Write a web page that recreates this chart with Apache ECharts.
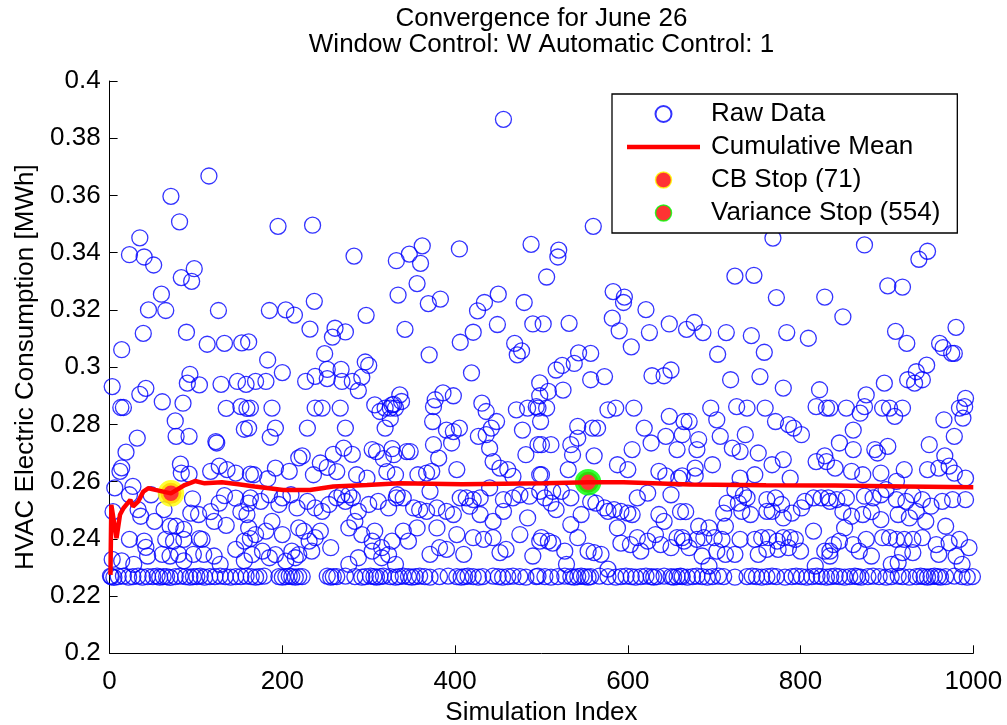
<!DOCTYPE html>
<html><head><meta charset="utf-8">
<script src="https://cdn.jsdelivr.net/npm/echarts@6/dist/echarts.min.js"></script>
<style>html,body{margin:0;padding:0;background:#fff}#c{width:1007px;height:725px}</style>
</head><body><div id="c"></div>
<script>
// ---- data ----
const titleLines = ['Convergence for June 26', 'Window Control: W Automatic Control: 1'];
const xLabel = 'Simulation Index';
const yLabel = 'HVAC Electric Consumption [MWh]';
const xRange = [0, 1000, 200];
const yRange = [0.2, 0.4, 0.02];

const rawHigh = [
[115,0.3668],[71,0.3597],[81,0.3508],[35,0.3452],[23,0.3393],[40,0.3385],[51,0.3357],[98,0.3344],[83,0.3313],[95,0.3300],[60,0.3255],[45,0.3200],[65,0.3198],[126,0.3198],[39,0.3118],[89,0.3122],[14,0.3061],[113,0.3080],[133,0.3083],[153,0.3085],[93,0.2975],
[195,0.3492],[235,0.3496],[283,0.3388],[237,0.3230],[185,0.3198],[204,0.3200],[214,0.3182],[297,0.3181],[232,0.3133],[261,0.3136],[258,0.3105],[273,0.3123],[161,0.3088],[249,0.3047],[183,0.3025],[296,0.3018],[300,0.3006],[200,0.2981],[252,0.2992],[268,0.2992],
[456,0.3866],[362,0.3424],[405,0.3413],[488,0.3429],[347,0.3395],[332,0.3372],[360,0.3363],[506,0.3315],[356,0.3292],[334,0.3252],[450,0.3255],[383,0.3238],[369,0.3222],[434,0.3226],[426,0.3197],[480,0.3226],[342,0.3132],[421,0.3122],[449,0.3149],[490,0.3151],[502,0.3151],[406,0.3087],[469,0.3083],[477,0.3057],[472,0.3043],[370,0.3043],[419,0.2980],
[560,0.3492],[520,0.3409],[519,0.3385],[583,0.3264],[596,0.3245],[595,0.3226],[621,0.3201],[582,0.3171],[532,0.3153],[590,0.3127],[625,0.3121],[648,0.3151],[668,0.3132],[604,0.3071],[543,0.3050],[557,0.3048],[538,0.3013],[524,0.3006],[517,0.2990],[650,0.2990],
[768,0.3451],[724,0.3318],[746,0.3321],[772,0.3243],[828,0.3245],[677,0.3156],[687,0.3121],[714,0.3121],[743,0.3110],[784,0.3121],[809,0.3101],[704,0.3045],[758,0.3052],
[874,0.3427],[947,0.3405],[937,0.3377],[901,0.3284],[918,0.3280],[849,0.3176],[910,0.3125],[923,0.3083],[980,0.3139],[961,0.3083],[965,0.3068],[975,0.3048],[978,0.3048],[946,0.3007],[934,0.2984]
];

const rawBandA = [
[3,0.2932],[90,0.2944],[104,0.2938],[129,0.2940],[148,0.2950],[158,0.2940],[42,0.2926],[35,0.2905],[61,0.2879],[85,0.2874],[13,0.2859],[16,0.2859],[135,0.2856],[152,0.2862],[159,0.2856],[76,0.2812],[156,0.2783],[32,0.2752],[77,0.2758],[92,0.2758],[123,0.2740],[124,0.2735],[19,0.2703],[82,0.2661],[12,0.2636],[14,0.2648],[127,0.2654],[136,0.2642],[146,0.2630],[117,0.2636],[163,0.2626],[83,0.2630],[92,0.2626],
[6,0.2578],[27,0.2583],[23,0.2554],[48,0.2554],[96,0.2540],[133,0.2551],[127,0.2525],[146,0.2542],[161,0.2525],[33,0.2502],[4,0.2495],[36,0.2479],[63,0.2502],[94,0.2490],[103,0.2485],[117,0.2495],[152,0.2495],[159,0.2485],[52,0.2461],[77,0.2444],[86,0.2433],[70,0.2444],[121,0.2461],[135,0.2447],
[23,0.2398],[40,0.2392],[65,0.2398],[74,0.2392],[86,0.2398],[104,0.2401],[107,0.2398],[146,0.2363],[156,0.2392],[163,0.2401],[42,0.2370],[44,0.2340],[70,0.2340],[97,0.2346],[109,0.2346],[121,0.2340],[80,0.2346],[3,0.2328],[14,0.2323],[28,0.2311],[61,0.2346],[86,0.2323],[128,0.2311],[156,0.2323]
];

const rawBandB = [
[169,0.2950],[181,0.2950],[227,0.2950],[238,0.2968],[252,0.2960],[269,0.2950],[281,0.2950],[292,0.2965],[288,0.2918],
[163,0.2857],[188,0.2857],[238,0.2857],[246,0.2857],[267,0.2857],[307,0.2868],[313,0.2845],[319,0.2857],[325,0.2857],[331,0.2857],[325,0.2820],[327,0.2868],
[161,0.2787],[186,0.2755],[192,0.2787],[229,0.2787],[273,0.2787],[319,0.2787],
[304,0.2712],[309,0.2705],[317,0.2680],[327,0.2715],[271,0.2717],[259,0.2695],[281,0.2695],[219,0.2683],[223,0.2690],[244,0.2665],[252,0.2650],[263,0.2635],[192,0.2647],[208,0.2636],[167,0.2624],[183,0.2610],[236,0.2624],[286,0.2624],[298,0.2612],[321,0.2635],[331,0.2624],
[163,0.2543],[175,0.2531],[185,0.2554],[196,0.2520],[200,0.2543],[210,0.2554],[217,0.2508],[229,0.2531],[238,0.2508],[246,0.2496],[254,0.2520],[263,0.2543],[269,0.2554],[273,0.2531],[277,0.2554],[281,0.2543],[288,0.2496],[300,0.2520],[311,0.2531],[323,0.2508],[332,0.2543],
[161,0.2438],[169,0.2415],[181,0.2427],[188,0.2461],[200,0.2415],[219,0.2438],[225,0.2427],[231,0.2392],[238,0.2404],[244,0.2427],[256,0.2369],[277,0.2438],[284,0.2461],[292,0.2415],[304,0.2392],[307,0.2427],[315,0.2369],[327,0.2392],
[165,0.2345],[177,0.2357],[185,0.2334],[192,0.2345],[204,0.2322],[211,0.2357],[215,0.2334],[219,0.2345],[234,0.2357],[277,0.2311],[288,0.2334],[304,0.2357],[315,0.2334],[323,0.2345],[331,0.2311]
];

const rawBandC = [
[336,0.2903],[338,0.2880],[329,0.2870],[377,0.2886],[386,0.2910],[398,0.2900],[375,0.2862],[431,0.2874],[436,0.2845],[471,0.2851],[484,0.2857],[494,0.2862],[498,0.2900],[374,0.2810],[448,0.2810],[390,0.2780],[405,0.2787],[398,0.2775],[427,0.2758],[436,0.2764],[442,0.2787],[478,0.2780],[499,0.2810],[375,0.2729],[396,0.2735],[344,0.2705],[348,0.2705],[329,0.2694],[440,0.2717],[444,0.2670],[482,0.2694],[381,0.2682],[496,0.2729],[402,0.2642],[452,0.2647],[461,0.2642],[467,0.2618],[357,0.2624],[367,0.2630],[373,0.2636],[498,0.2624],
[333,0.2554],[340,0.2543],[371,0.2566],[406,0.2543],[413,0.2543],[421,0.2537],[429,0.2543],[440,0.2578],[456,0.2537],[467,0.2543],[475,0.2554],[486,0.2549],[498,0.2566],[352,0.2508],[359,0.2502],[367,0.2496],[379,0.2508],[390,0.2496],[398,0.2485],[417,0.2514],[429,0.2485],[444,0.2461],[456,0.2496],[484,0.2473],
[340,0.2427],[356,0.2438],[346,0.2392],[379,0.2438],[371,0.2346],[382,0.2369],[390,0.2363],[402,0.2415],[410,0.2346],[421,0.2404],[433,0.2398],[444,0.2404],[452,0.2352],[459,0.2363],[475,0.2415],[490,0.2340],[498,0.2392]
];

const rawBandD = [
[498,0.2945],[508,0.2915],[525,0.2920],[557,0.2956],[573,0.2967],[628,0.2970],[642,0.2970],[496,0.2857],[506,0.2857],[577,0.2851],[586,0.2857],[607,0.2857],[648,0.2828],[665,0.2810],[542,0.2793],[559,0.2787],[565,0.2787],[619,0.2787],[644,0.2758],[657,0.2712],[627,0.2735],[500,0.2729],[511,0.2729],[534,0.2729],[542,0.2752],[536,0.2694],[605,0.2712],[561,0.2690],[588,0.2659],[600,0.2642],[531,0.2642],[636,0.2636],[644,0.2620],[500,0.2624],[659,0.2612],
[504,0.2543],[513,0.2566],[523,0.2566],[534,0.2543],[511,0.2525],[517,0.2502],[546,0.2485],[563,0.2525],[573,0.2508],[577,0.2496],[584,0.2502],[592,0.2496],[600,0.2490],[605,0.2485],[611,0.2543],[623,0.2560],[650,0.2554],[661,0.2495],[636,0.2485],[642,0.2461],[588,0.2438],[534,0.2450],[557,0.2530],
[500,0.2404],[508,0.2392],[513,0.2385],[527,0.2357],[542,0.2404],[554,0.2357],[561,0.2352],[569,0.2346],[592,0.2385],[603,0.2380],[611,0.2404],[615,0.2357],[623,0.2392],[632,0.2415],[638,0.2380],[650,0.2369],[657,0.2404],[665,0.2392],[529,0.2311],[577,0.2294]
];

const rawBandE = [
[719,0.2956],[753,0.2967],[780,0.2927],[822,0.2921],[696,0.2857],[726,0.2862],[738,0.2857],[759,0.2857],[818,0.2862],[830,0.2857],[671,0.2810],[703,0.2816],[771,0.2810],[786,0.2799],[792,0.2787],[801,0.2764],[707,0.2758],[736,0.2764],[682,0.2747],[663,0.2764],[680,0.2712],[721,0.2717],[730,0.2705],[751,0.2700],[698,0.2659],[767,0.2659],[780,0.2677],[818,0.2670],[828,0.2690],[678,0.2647],[678,0.2620],[730,0.2612],[747,0.2624],[788,0.2612],[663,0.2620],
[724,0.2570],[734,0.2554],[738,0.2543],[728,0.2525],[715,0.2525],[667,0.2495],[711,0.2490],[732,0.2496],[742,0.2485],[761,0.2537],[771,0.2543],[778,0.2520],[761,0.2496],[767,0.2496],[780,0.2473],[790,0.2490],[801,0.2508],[805,0.2531],[815,0.2543],[824,0.2543],[834,0.2531],[815,0.2427],[682,0.2444],[694,0.2438],[713,0.2444],
[663,0.2404],[671,0.2369],[680,0.2398],[688,0.2404],[700,0.2404],[709,0.2398],[730,0.2398],[747,0.2398],[755,0.2404],[763,0.2404],[773,0.2392],[780,0.2404],[788,0.2404],[794,0.2398],[686,0.2340],[703,0.2357],[713,0.2346],[724,0.2346],[751,0.2346],[761,0.2363],[774,0.2363],[786,0.2369],[800,0.2357],[828,0.2357],[834,0.2340],[694,0.2305],[817,0.2305]
];

const rawBandF = [
[897,0.2944],[924,0.2956],[932,0.2944],[941,0.2956],[876,0.2903],[834,0.2857],[853,0.2857],[869,0.2839],[874,0.2862],[895,0.2857],[903,0.2857],[909,0.2828],[918,0.2857],[984,0.2857],[990,0.2862],[991,0.2891],[988,0.2822],[966,0.2816],[861,0.2780],[978,0.2758],[845,0.2735],[861,0.2712],[886,0.2712],[901,0.2723],[949,0.2729],[967,0.2690],[830,0.2670],[840,0.2647],[859,0.2636],[872,0.2624],[889,0.2700],[893,0.2630],[920,0.2642],[947,0.2642],[960,0.2647],[972,0.2654],[978,0.2630],[991,0.2612],[911,0.2601],
[832,0.2543],[842,0.2537],[853,0.2543],[874,0.2549],[884,0.2543],[893,0.2554],[899,0.2572],[911,0.2537],[922,0.2531],[930,0.2554],[941,0.2537],[951,0.2514],[964,0.2531],[976,0.2537],[991,0.2537],[849,0.2495],[859,0.2479],[872,0.2485],[882,0.2495],[893,0.2467],[913,0.2485],[926,0.2473],[934,0.2496],[945,0.2461],[968,0.2444],[851,0.2438],
[838,0.2380],[845,0.2392],[861,0.2380],[868,0.2357],[876,0.2398],[895,0.2404],[903,0.2404],[911,0.2398],[920,0.2398],[930,0.2398],[941,0.2404],[957,0.2380],[972,0.2386],[984,0.2398],[995,0.2369],[834,0.2357],[882,0.2340],[918,0.2352],[930,0.2352],[960,0.2346],[980,0.2340],[905,0.2311],[913,0.2317],[987,0.2311]
];

const rawFloor = [
[1,0.2270],[2,0.2268],[5,0.2265],[10,0.2268],[16,0.2270],[22,0.2266],[27,0.2268],[33,0.2270],[38,0.2266],[44,0.2268],[50,0.2268],[55,0.2270],[58,0.2266],[62,0.2268],[66,0.2268],[70,0.2265],[76,0.2268],[82,0.2270],[88,0.2268],[93,0.2266],[97,0.2268],[101,0.2268],[105,0.2270],[110,0.2266],[116,0.2268],[122,0.2268],[128,0.2270],[134,0.2268],[140,0.2266],[146,0.2268],[152,0.2268],[158,0.2270],[164,0.2268],
[169,0.2266],[173,0.2268],[179,0.2270],[196,0.2268],[200,0.2266],[204,0.2268],[208,0.2270],[211,0.2268],[215,0.2266],[219,0.2268],[223,0.2268],[252,0.2270],[256,0.2266],[259,0.2268],[263,0.2268],[273,0.2270],[284,0.2268],[292,0.2266],[296,0.2268],[302,0.2270],[306,0.2268],[309,0.2266],[313,0.2268],[317,0.2270],[325,0.2268],[331,0.2266],
[335,0.2268],[340,0.2270],[346,0.2268],[350,0.2266],[354,0.2268],[359,0.2270],[365,0.2268],[371,0.2266],[382,0.2268],[392,0.2270],[402,0.2268],[407,0.2266],[411,0.2268],[415,0.2270],[421,0.2268],[427,0.2266],[432,0.2268],[444,0.2270],[450,0.2268],[455,0.2266],[461,0.2268],[467,0.2270],[475,0.2268],[482,0.2266],[494,0.2268],
[496,0.2270],[504,0.2268],[511,0.2266],[519,0.2268],[527,0.2270],[534,0.2268],[538,0.2266],[542,0.2268],[546,0.2270],[550,0.2268],[554,0.2266],[557,0.2268],[567,0.2270],[577,0.2268],[586,0.2266],[592,0.2268],[598,0.2270],[604,0.2268],[609,0.2266],[615,0.2268],[621,0.2270],[627,0.2268],[630,0.2266],[634,0.2268],[642,0.2270],[650,0.2268],[653,0.2266],[657,0.2268],[661,0.2270],
[663,0.2268],[669,0.2266],[675,0.2268],[680,0.2270],[686,0.2268],[692,0.2266],[698,0.2268],[705,0.2270],[711,0.2268],[724,0.2266],[738,0.2268],[744,0.2270],[749,0.2268],[755,0.2266],[761,0.2268],[767,0.2270],[772,0.2268],[782,0.2266],[790,0.2268],[795,0.2270],[801,0.2268],[807,0.2266],[813,0.2268],[819,0.2270],[824,0.2268],
[830,0.2266],[835,0.2268],[840,0.2270],[845,0.2268],[851,0.2266],[857,0.2268],[863,0.2270],[866,0.2268],[870,0.2266],[878,0.2268],[884,0.2270],[891,0.2268],[899,0.2266],[905,0.2268],[913,0.2270],[918,0.2268],[926,0.2266],[934,0.2268],[939,0.2270],[943,0.2268],[947,0.2266],[951,0.2268],[955,0.2270],[959,0.2268],[962,0.2266],[968,0.2268],[978,0.2270],[987,0.2268],[993,0.2266],[999,0.2268]
];

const meanCurve = [
[1,0.2274],[2,0.2519],[8,0.2402],[12,0.2484],[16,0.2507],[24,0.2536],[27,0.2513],[33,0.2530],[39,0.2565],[45,0.2577],[53,0.2571],[71,0.2559],[87,0.2588],[99,0.2602],[110,0.2594],[130,0.2598],[149,0.2591],[168,0.2583],[201,0.2571],[232,0.2571],[259,0.2583],[298,0.2588],[336,0.2594],[408,0.2591],[503,0.2594],[554,0.2598],[595,0.2598],[672,0.2590],[760,0.2587],[840,0.2586],[920,0.2583],[1000,0.2580]
];
const cbStop = [[71,0.2559]];
const varianceStop = [[554,0.2598]];

// ---- chart ----
const FONT = '"Liberation Sans", Arial, Helvetica, sans-serif';
const FS = 26;
const rawData = [].concat(rawFloor, rawBandA, rawBandB, rawBandC, rawBandD, rawBandE, rawBandF, rawHigh);
const GRID = {left: 109.6, right: 33.7, top: 81, bottom: 71.7};
const plotCenterX = GRID.left + (1007 - GRID.left - GRID.right) / 2;

const chart = echarts.init(document.getElementById('c'), null, {renderer: 'canvas'});
chart.setOption({
  animation: false,
  backgroundColor: '#fff',
  textStyle: {fontFamily: FONT},
  graphic: [
    {type: 'text', x: plotCenterX, y: 19, style: {text: titleLines[0], fontSize: FS, fontFamily: FONT, fill: '#000', align: 'center', verticalAlign: 'middle'}},
    {type: 'text', x: plotCenterX, y: 45, style: {text: titleLines[1], fontSize: FS, fontFamily: FONT, fill: '#000', align: 'center', verticalAlign: 'middle'}}
  ],
  grid: {left: GRID.left, right: GRID.right, top: GRID.top, bottom: GRID.bottom, containLabel: false, outerBoundsMode: 'none'},
  xAxis: {
    type: 'value', min: xRange[0], max: xRange[1], interval: xRange[2],
    name: xLabel, nameLocation: 'middle', nameGap: 44,
    nameTextStyle: {fontSize: FS, color: '#000', fontFamily: FONT},
    axisLine: {show: true, lineStyle: {color: '#000', width: 1}},
    axisTick: {show: true, inside: true, length: 8, lineStyle: {color: '#000'}},
    axisLabel: {fontSize: FS, color: '#000', margin: 16, fontFamily: FONT, formatter: v => String(v)},
    splitLine: {show: false}
  },
  yAxis: {
    type: 'value', min: yRange[0], max: yRange[1], interval: yRange[2],
    name: yLabel, nameLocation: 'middle', nameGap: 67,
    nameTextStyle: {fontSize: FS, color: '#000', fontFamily: FONT},
    axisLine: {show: true, lineStyle: {color: '#000', width: 1}},
    axisTick: {show: true, inside: true, length: 8, lineStyle: {color: '#000'}},
    axisLabel: {fontSize: FS, color: '#000', margin: 9, fontFamily: FONT, formatter: v => String(+v.toFixed(2))},
    splitLine: {show: false}
  },
  legend: {
    left: 612, top: 94, orient: 'vertical', selectedMode: false,
    backgroundColor: '#fff', borderColor: '#000', borderWidth: 1.3,
    padding: [7, 17, 7, 15], itemGap: 7, itemWidth: 73, itemHeight: 16,
    textStyle: {fontSize: FS, color: '#000', fontFamily: FONT, padding: [0, 0, 0, 6]},
    data: [
      {name: 'Raw Data'},
      {name: 'Cumulative Mean', icon: 'path://M0,0L73,0L73,4.5L0,4.5Z', itemStyle: {color: '#ff0000', borderWidth: 0}},
      {name: 'CB Stop (71)', itemStyle: {borderWidth: 1.5}},
      {name: 'Variance Stop (554)', itemStyle: {borderWidth: 1.5}}
    ]
  },
  series: [
    {
      name: 'Raw Data', type: 'scatter', data: rawData, symbol: 'circle', symbolSize: 16,
      itemStyle: {color: 'rgba(255,255,255,0)', borderColor: '#0000ff', borderWidth: 1.3},
      emphasis: {disabled: true}, silent: true
    },
    {
      name: 'Cumulative Mean', type: 'line', data: meanCurve, symbol: 'none',
      lineStyle: {color: '#ff0000', width: 4.5}, itemStyle: {color: '#ff0000'},
      emphasis: {disabled: true}, silent: true
    },
    {
      name: 'CB Stop (71)', type: 'scatter', data: cbStop, symbol: 'circle', symbolSize: 21,
      itemStyle: {color: '#ff0000', borderColor: '#ffff00', borderWidth: 5.5},
      emphasis: {disabled: true}, silent: true
    },
    {
      name: 'Variance Stop (554)', type: 'scatter', data: varianceStop, symbol: 'circle', symbolSize: 21,
      itemStyle: {color: '#ff0000', borderColor: '#00ff00', borderWidth: 5.5},
      emphasis: {disabled: true}, silent: true
    }
  ]
});
</script>
</body></html>
